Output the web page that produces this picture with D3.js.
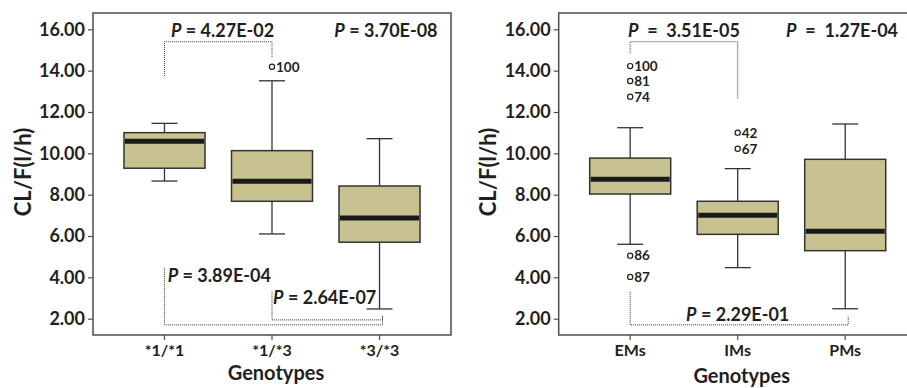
<!DOCTYPE html>
<html>
<head>
<meta charset="utf-8">
<script src="https://cdn.jsdelivr.net/npm/d3@7"></script>
<style>
	body { margin: 0; background: #fff; }
	svg text { font-family: Lato, "Open Sans", sans-serif; font-weight: bold; fill: #231f20; }
</style>
</head>
<body>
<div id="chart-area"></div>
<script>
// Data
const genotypes = ["*1/*1", "*1/*3", "*3/*3"]
const phenotypes = ["EMs", "IMs", "PMs"]

// five number summaries: [lower whisker, Q1, median, Q3, upper whisker]
const genoBoxes = [
	[8.66, 9.28, 10.58, 11.0, 11.45],
	[6.1, 7.68, 8.65, 10.13, 13.51],
	[2.47, 5.7, 6.87, 8.42, 10.71]
]
const phenoBoxes = [
	[5.6, 8.03, 8.74, 9.77, 11.24],
	[4.47, 6.08, 7.0, 7.68, 9.26],
	[2.48, 5.29, 6.23, 9.71, 11.42]
]

const genoOutliers = [
	{ group: "*1/*3", value: 14.19, id: "100" }
]
const phenoOutliers = [
	{ group: "EMs", value: 14.22, id: "100" },
	{ group: "EMs", value: 13.5, id: "81" },
	{ group: "EMs", value: 12.74, id: "74" },
	{ group: "EMs", value: 5.05, id: "86" },
	{ group: "EMs", value: 4.02, id: "87" },
	{ group: "IMs", value: 11.0, id: "42" },
	{ group: "IMs", value: 10.22, id: "67" }
]

const yTicks = [2, 4, 6, 8, 10, 12, 14, 16]

// significance brackets: from group, start value, bar value, to group, end value
const genoBrackets = [
	{ from: "*1/*1", v0: 13.74, bar: 15.4, to: "*1/*3", v1: 14.6 },
	{ from: "*1/*1", v0: 4.44, bar: 1.7, to: "*3/*3", v1: 2.14 },
	{ from: "*1/*3", v0: 3.3, bar: 1.94, to: "*3/*3", v1: 2.14 }
]
const phenoBrackets = [
	{ from: "EMs", v0: 14.84, bar: 15.4, to: "IMs", v1: 12.63 },
	{ from: "EMs", v0: 3.3, bar: 1.7, to: "PMs", v1: 2.14 }
]

// P value labels: at (group + shift in steps, value)
const genoPvals = [
	{ text: "4.27E-02", group: "*1/*1", shift: 0.54, value: 15.63, anchor: "middle", sep: " = " },
	{ text: "3.70E-08", group: "*3/*3", shift: 0.06, value: 15.63, anchor: "middle", sep: " = " },
	{ text: "3.89E-04", group: "*1/*1", shift: 0.03, value: 3.77, anchor: "start", sep: " = " },
	{ text: "2.64E-07", group: "*1/*3", shift: 0.01, value: 2.71, anchor: "start", sep: " = " }
]
const phenoPvals = [
	{ text: "3.51E-05", group: "EMs", shift: 0.5, value: 15.63, anchor: "middle", sep: "  =  " },
	{ text: "1.27E-04", group: "PMs", shift: -0.55, value: 15.63, anchor: "start", sep: "  =  " },
	{ text: "2.29E-01", group: "IMs", shift: 0, value: 1.9, anchor: "middle", sep: " = " }
]

// Canvas
const W = 907, H = 388
const svg = d3.select("#chart-area")
	.append("svg")
	.attr("width", W)
	.attr("height", H)

const plotTop = 13, plotBottom = 335
const y = d3.scaleLinear().domain([1.21, 16.79]).range([plotBottom, plotTop])

function drawPanel(left, cats, boxes, outliers, brackets, pvals, labelY) {
	const width = 358
	const g = svg.append("g")

	const x = d3.scaleBand().domain(cats)
		.range([left, left + width])
		.paddingInner(0.2465)
		.paddingOuter(0.288)
	const cx = d => x(d) + x.bandwidth() / 2
	const step = x.step()

	// frame
	g.append("rect")
		.attr("x", left).attr("y", plotTop)
		.attr("width", width).attr("height", plotBottom - plotTop)
		.attr("fill", "none")
		.attr("stroke", "#4d4d4d")
		.attr("stroke-width", 1.5)

	// Axes
	const yAxis = g.append("g")
		.attr("transform", `translate(${left}, 0)`)
		.call(d3.axisLeft(y).tickValues(yTicks).tickFormat(d3.format(".2f")).tickSize(5).tickPadding(3))
	yAxis.select(".domain").remove()
	yAxis.selectAll("line").attr("stroke", "#4d4d4d").attr("stroke-width", 1.2)
	yAxis.selectAll("text").attr("font-size", "18px").attr("fill", "#231f20")
		.attr("font-family", "Lato, sans-serif").attr("font-weight", "bold")

	const xAxis = g.append("g")
		.attr("transform", `translate(0, ${plotBottom})`)
		.call(d3.axisBottom(x).tickSize(5).tickPadding(5))
	xAxis.select(".domain").remove()
	xAxis.selectAll("line").attr("stroke", "#4d4d4d").attr("stroke-width", 1.2)
	xAxis.selectAll("text").attr("font-size", "16px").attr("fill", "#231f20")
		.attr("font-family", "Lato, sans-serif").attr("font-weight", "bold")

	// Axes labels
	g.append("text")
		.attr("transform", "rotate(-90)")
		.attr("x", -172)
		.attr("y", left - 70)
		.attr("dy", "0.35em")
		.attr("text-anchor", "middle")
		.attr("font-size", "22px")
		.text("CL/F(l/h)")

	g.append("text")
		.attr("x", left + width / 2 + 4)
		.attr("y", labelY)
		.attr("text-anchor", "middle")
		.attr("font-size", "20px")
		.text("Genotypes")

	// boxes
	const box = g.selectAll(".box").data(boxes).enter().append("g").attr("class", "box")
	box.append("line")
		.attr("x1", (d, i) => cx(cats[i])).attr("x2", (d, i) => cx(cats[i]))
		.attr("y1", d => y(d[0])).attr("y2", d => y(d[4]))
		.attr("stroke", "#333").attr("stroke-width", 1.3)
	box.selectAll(".cap").data((d, i) => [[d[0], i], [d[4], i]]).enter().append("line")
		.attr("x1", d => cx(cats[d[1]]) - 13).attr("x2", d => cx(cats[d[1]]) + 13)
		.attr("y1", d => y(d[0])).attr("y2", d => y(d[0]))
		.attr("stroke", "#333").attr("stroke-width", 1.3)
	box.append("rect")
		.attr("x", (d, i) => x(cats[i]))
		.attr("y", d => y(d[3]))
		.attr("width", x.bandwidth())
		.attr("height", d => y(d[1]) - y(d[3]))
		.attr("fill", "#c8c291")
		.attr("stroke", "#333").attr("stroke-width", 1.5)
	box.append("line")
		.attr("x1", (d, i) => x(cats[i]) + 1).attr("x2", (d, i) => x(cats[i]) + x.bandwidth() - 1)
		.attr("y1", d => y(d[2])).attr("y2", d => y(d[2]))
		.attr("stroke", "#1a1a1a").attr("stroke-width", 5)

	// outliers
	const out = g.selectAll(".outlier").data(outliers).enter().append("g")
	out.append("circle")
		.attr("cx", d => cx(d.group)).attr("cy", d => y(d.value))
		.attr("r", 2.6)
		.attr("fill", "#fff").attr("stroke", "#231f20").attr("stroke-width", 1.2)
	out.append("text")
		.attr("x", d => cx(d.group) + 4)
		.attr("y", d => y(d.value))
		.attr("dy", "0.36em")
		.attr("font-size", "13.5px")
		.text(d => d.id)

	// brackets
	g.selectAll(".bracket").data(brackets).enter().append("path")
		.attr("d", d => `M${cx(d.from)},${y(d.v0)}V${y(d.bar)}H${cx(d.to) + (d.bar < 3 ? 3 : 0)}V${y(d.v1)}`)
		.attr("fill", "none")
		.attr("stroke", "#333")
		.attr("stroke-width", 1)
		.attr("stroke-dasharray", "1,1")

	// P values
	const pt = g.selectAll(".pval").data(pvals).enter().append("text")
		.attr("x", d => cx(d.group) + d.shift * step)
		.attr("y", d => y(d.value))
		.attr("text-anchor", d => d.anchor)
		.attr("font-size", "18px")
		.style("white-space", "pre")
	pt.append("tspan").attr("font-style", "italic").text("P")
	pt.append("tspan").text(d => d.sep + d.text)
}

drawPanel(93, genotypes, genoBoxes, genoOutliers, genoBrackets, genoPvals, 380)
drawPanel(558.7, phenotypes, phenoBoxes, phenoOutliers, phenoBrackets, phenoPvals, 383)
</script>
</body>
</html>
